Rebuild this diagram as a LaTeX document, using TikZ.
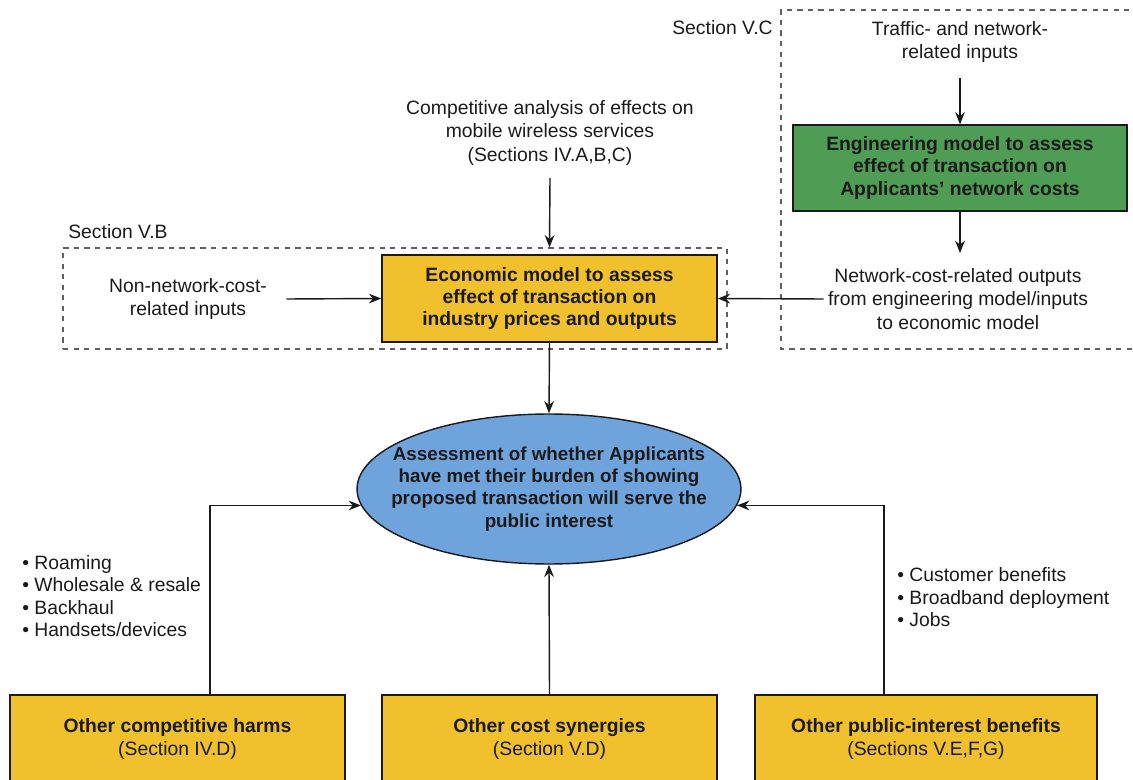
\documentclass[tikz,border=0pt]{standalone}
\usepackage{fontspec}
\setmainfont{Liberation Sans}
\usetikzlibrary{shapes.geometric,arrows.meta}
\definecolor{ylw}{HTML}{F0C12C}
\definecolor{grn}{HTML}{4F9C55}
\definecolor{blu}{HTML}{6FA3DB}
\definecolor{ink}{HTML}{1A1A1A}
\begin{document}
\begin{tikzpicture}[x=0.02cm,y=-0.02cm,
  lbl/.style={align=center,font=\fontsize{11}{13.4}\selectfont,inner sep=0pt,text=ink},
  bold/.style={align=center,font=\fontsize{11}{12.6}\selectfont\bfseries,text=ink},
  ybox/.style={bold,fill=ylw,draw=ink,line width=0.9pt,minimum width=6.7cm,minimum height=1.74cm,inner sep=0pt},
  gbox/.style={bold,fill=grn,draw=ink,line width=0.7pt,minimum width=6.68cm,minimum height=1.72cm,inner sep=0pt},
  sect/.style={draw=ink!70,dashed,line width=0.7pt},
  arr/.style={-{Stealth[length=7pt,width=5.5pt]},line width=0.8pt,draw=ink},
  seclbl/.style={font=\fontsize{11}{13}\selectfont,inner sep=0pt,text=ink},
  blist/.style={lbl,align=left,anchor=west,font=\fontsize{11}{12.8}\selectfont}
]
\useasboundingbox (0,0) rectangle (1133,780);
\clip (0,0) rectangle (1133,780);

% section boxes
\node[sect,minimum width=13.28cm,minimum height=2.02cm,inner sep=0pt] (vb) at (395,298.5) {};
\draw[sect] (1140,10) -- (781,10) -- (781,349) -- (1140,349);
\node[seclbl,anchor=west] (vblbl) at (68,232) {Section V.B};
\node[seclbl,anchor=west] (vclbl) at (672,28) {Section V.C};

% top texts
\node[lbl] (comp) at (550,133) {Competitive analysis of effects on\\mobile wireless services\\(Sections IV.A,B,C)};
\node[lbl] (traffic) at (960,42) {Traffic- and network-\\related inputs};
\node[gbox] (eng) at (960,168) {Engineering model to assess\\effect of transaction on\\Applicants' network costs};
\node[lbl] (netout) at (958,299) {Network-cost-related outputs\\from engineering model/inputs\\to economic model};
\node[ybox] (econ) at (549.5,298.5) {Economic model to assess\\effect of transaction on\\industry prices and outputs};
\node[lbl] (nonnet) at (188,299) {Non-network-cost-\\related inputs};

% ellipse
\node[ellipse,fill=blu,draw=ink,line width=0.8pt,minimum width=7.68cm,minimum height=3cm,inner xsep=-0.6cm,inner ysep=0pt,bold,font=\fontsize{10.7}{12.6}\selectfont\bfseries] (assess) at (549,489)
  {Assessment of whether Applicants\\have met their burden of showing\\proposed transaction will serve the\\public interest};

% bottom boxes
\node[ybox,minimum height=1.76cm,line width=0.7pt] (harms) at (177.5,739) {Other competitive harms\\[1pt]{\normalfont(Section IV.D)}};
\node[ybox,minimum height=1.76cm,line width=0.7pt] (syn) at (549.5,739) {Other cost synergies\\[1pt]{\normalfont(Section V.D)}};
\node[ybox,minimum height=1.76cm,line width=0.7pt,minimum width=6.84cm] (ben) at (926,739) {Other public-interest benefits\\[1pt]{\normalfont(Sections V.E,F,G)}};

% bullets
\node[blist] (blt1) at (22,596)
  {• Roaming\\• Wholesale \& resale\\• Backhaul\\• Handsets/devices};
\node[blist] (blt2) at (897,597.5)
  {• Customer benefits\\• Broadband deployment\\• Jobs};

% connectors
\draw[arr] ([yshift=-0.3cm]traffic.south) -- (eng.north);
\draw[arr] (eng.south) -- ([yshift=0.3cm]netout.north -| eng.south);
\draw[arr] ([yshift=-0.24cm]comp.south) -- (vb.north -| econ.north);
\draw[arr] ([xshift=-0.08cm]netout.west) -- (econ.east);
\draw[arr] ([xshift=0.38cm]nonnet.east) -- (econ.west);
\draw[arr] (econ.south) -- (assess.north);
\draw[arr] ([xshift=0.65cm]harms.north) |- (assess.185);
\draw[arr] ([xshift=-0.84cm]ben.north) |- (assess.-5);
\draw[arr] (syn.north) -- (assess.south);
\end{tikzpicture}
\end{document}
